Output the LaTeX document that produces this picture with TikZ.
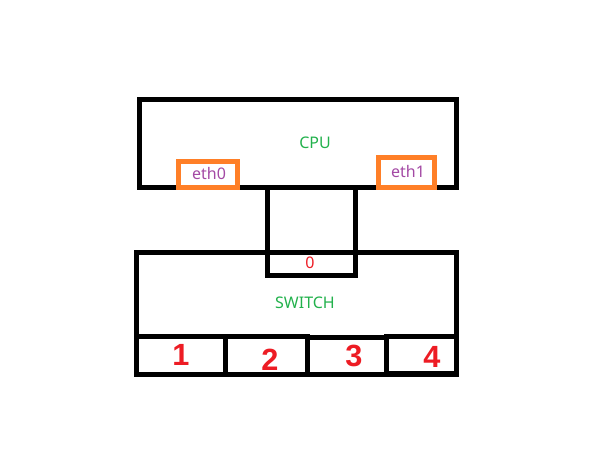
\documentclass[tikz,border=0pt]{standalone}
\usepackage{fontspec}
\setmainfont{Noto Sans}
\newfontfamily\numfont{Liberation Sans}
\usetikzlibrary{positioning, fit}

\definecolor{boxorange}{RGB}{255,127,39}
\definecolor{lblgreen}{RGB}{34,177,76}
\definecolor{lblpurple}{RGB}{163,73,164}
\definecolor{lblred}{RGB}{237,28,36}

\begin{document}
\begin{tikzpicture}[
  x=0.75pt, y=-0.75pt,
  box/.style={rectangle, draw=#1, line width=3.75pt, inner sep=0pt},
  box/.default={black},
  lbl/.style={font=\fontsize{12}{14}\selectfont, text=#1, inner sep=0pt},
  lbl/.default={lblgreen},
  portnum/.style={font=\numfont\fontsize{23}{25}\selectfont\bfseries, text=lblred, inner sep=0pt},
]
\useasboundingbox (0,0) rectangle (601,469);

% --- Boxes ---
\node[box, fit={(139.5,99) (456,187.5)}]     (cpu)    {};
\node[box, fit={(136.5,252.5) (456.5,374)}]  (switch) {};
\node[box, fit={(267.5,187.5) (355.5,275.5)}] (link)  {};

% --- Ports ---
\node[box, fit={(136.5,336.5) (225.5,374)}] (p1) {};
\node[box, fit={(225.5,336.5) (307,374)}]   (p2) {};
\node[box, fit={(307,337.5) (386.5,374)}]   (p3) {};
\node[box, fit={(386.5,336.5) (456.5,373)}] (p4) {};

% --- Interfaces ---
\node[box=boxorange, fit={(178.5,161.5) (237.5,187.5)}] (eth0) {};
\node[box=boxorange, fit={(378.5,157.5) (434.5,187)}]   (eth1) {};

% --- Labels ---
\node[lbl]             (cpulbl)    at (315,143) {CPU};
\node[lbl=lblpurple]   (eth0lbl)   at (209,173) {eth0};
\node[lbl=lblpurple]   (eth1lbl)   at (408,171) {eth1};
\node[lbl=lblred]      (port0lbl)  at (310,263) {0};
\node[lbl]             (switchlbl) at (305,303) {SWITCH};

\node[portnum] (n1) at (181,355) {1};
\node[portnum] (n2) at (270,360) {2};
\node[portnum] (n3) at (354,356) {3};
\node[portnum] (n4) at (432,357) {4};

\end{tikzpicture}
\end{document}
